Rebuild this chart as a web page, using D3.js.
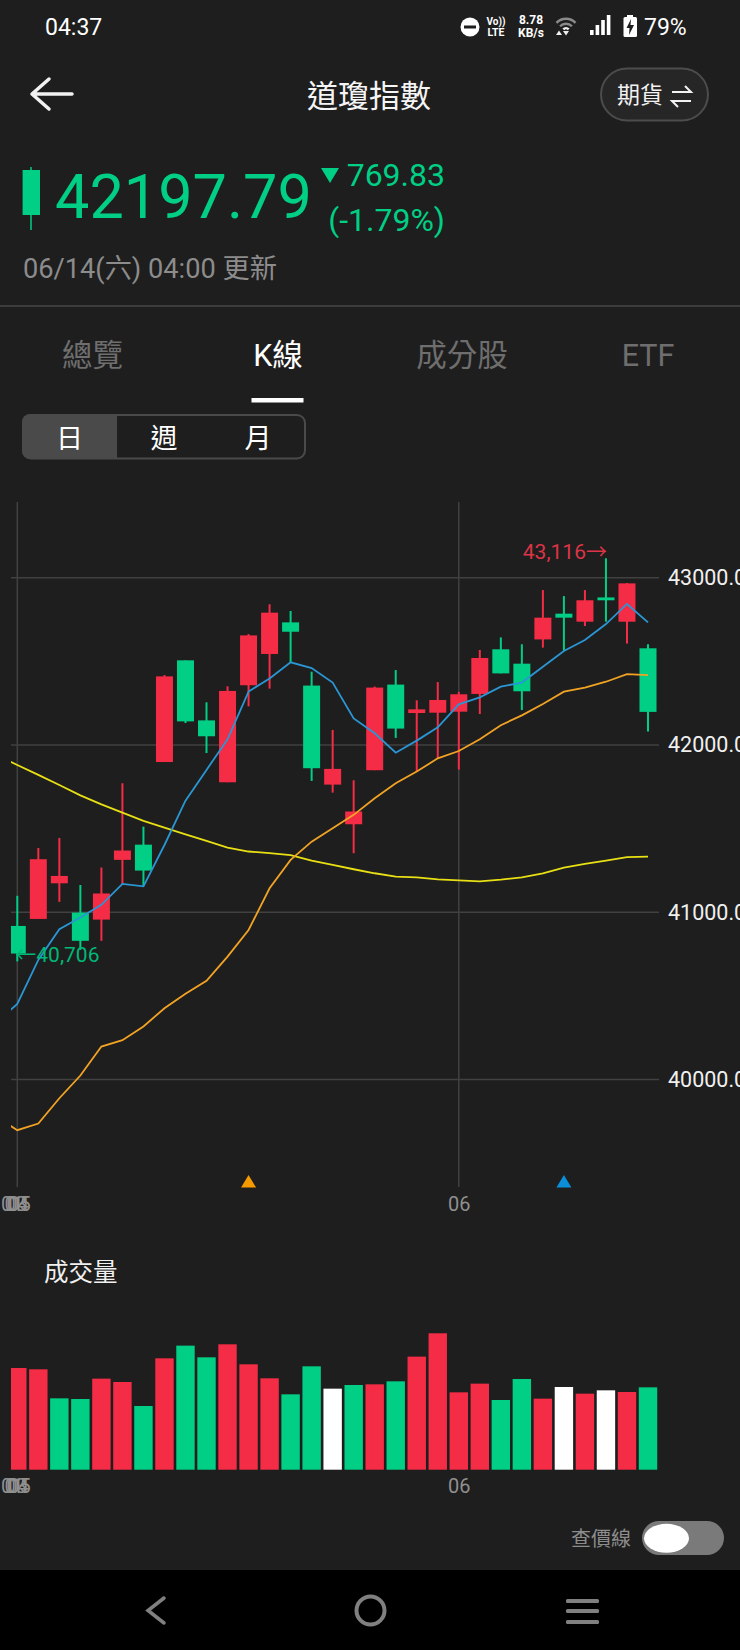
<!DOCTYPE html>
<html>
<head>
<meta charset="utf-8">
<script src="https://cdn.jsdelivr.net/npm/d3@7"></script>
<style>
  html, body { margin: 0; padding: 0; background: #1e1e1e; overflow: hidden; }
  svg { display: block; }
  text { font-family: Roboto, "Noto Sans CJK TC", sans-serif; }
</style>
</head>
<body>
<div id="chart"></div>
<script>
// Daily candles, oldest first. Red is up, green is down
const opens  = [40918,40960,41173,40998,40956,41313,41404,41898,42506,42147,41777,42357,42544,42733,42355,41763,41526,41849,42361,42191,42193,42199,42305,42572,42486,42631,42785,42737,42882,42737,42578];
const highs  = [41098,41384,41444,41163,41267,41771,41512,42418,42506,42255,42351,42663,42841,42801,42438,42090,41789,42349,42448,42267,42376,42317,42568,42643,42602,42926,42890,42926,43116,42968,42602];
const lows   = [40706,40960,41062,40775,40829,41169,41157,41898,42131,41952,41777,42231,42337,42492,41785,41715,41353,41849,42042,41839,41918,41853,42185,42428,42209,42582,42564,42711,42737,42606,42080];
const closes = [40753,41317,41217,40829,41112,41369,41249,42410,42141,42052,42323,42655,42791,42677,41861,41857,41602,42343,42098,42213,42269,42303,42520,42428,42321,42761,42761,42865,42865,42966,42197.79];

// Moving averages, first value belongs to the day before the first candle (clipped off)
const ma5  = [40339,40452,40715,40898,40968,41044,41169,41155,41402,41667,41851,42034,42319,42398,42494,42460,42373,42159,42070,41954,42026,42106,42243,42285,42349,42373,42468,42562,42627,42723,42843,42733];
const ma20 = [39779,39697,39737,39888,40024,40197,40235,40317,40426,40512,40590,40735,40894,41143,41313,41422,41502,41582,41681,41771,41841,41920,41964,42034,42118,42177,42245,42319,42343,42378,42424,42418];
const ma60 = [41940,41880,41821,41761,41699,41645,41596,41546,41506,41466,41426,41386,41363,41353,41341,41309,41283,41257,41233,41213,41209,41197,41191,41185,41195,41209,41233,41267,41289,41309,41329,41333];

const volumes   = [305,301,214,212,273,263,191,334,372,337,376,316,274,226,310,243,254,256,265,339,409,232,258,209,272,213,248,228,238,233,247];
const volColors = ['r','r','g','g','r','r','g','r','g','g','r','r','r','g','g','w','g','r','g','r','r','r','r','g','g','r','w','r','w','r','g'];

const priceTicks = [43000, 42000, 41000, 40000];
const monthIdx = [-0.27, -0.1, 0, 0.08, 21];
const monthLabels = ['01', '03', '04', '05', '06'];
const maCrossIdx = [11, 26];
const highIdx = 28;
const lowIdx = 0;

const tabs = ['總覽', 'K線', '成分股', 'ETF'];
const periods = ['日', '週', '月'];

const BG = '#1e1e1e', GREEN = '#00cf85', RED = '#f52c45', GRID = '#414141', GREY = '#8c8c8c';
const colorOf = { r: RED, g: GREEN, w: '#ffffff' };

const svg = d3.select('#chart').append('svg')
  .attr('width', 740).attr('height', 1650)
  .attr('viewBox', [0, 0, 740, 1650]);

svg.append('rect').attr('width', 740).attr('height', 1650).attr('fill', BG);

function label(x, y, txt, size, fill, anchor) {
  return svg.append('text')
    .attr('x', x).attr('y', y)
    .attr('dy', '0.35em')
    .attr('font-size', size)
    .attr('fill', fill)
    .attr('text-anchor', anchor || 'start')
    .text(txt);
}

// status bar
label(45, 27, '04:37', 23, '#fff');
svg.append('circle').attr('cx', 470).attr('cy', 27).attr('r', 9.5).attr('fill', '#fff');
svg.append('rect').attr('x', 464).attr('y', 25.5).attr('width', 12).attr('height', 3).attr('fill', BG);
label(496, 21, 'Vo))', 10, '#fff', 'middle').attr('font-weight', 700);
label(496, 32, 'LTE', 10.5, '#fff', 'middle').attr('font-weight', 700);
label(531, 20, '8.78', 12, '#fff', 'middle').attr('font-weight', 700);
label(531, 33, 'KB/s', 12, '#fff', 'middle').attr('font-weight', 700);
[[14.5, '#8a8a8a'], [9.5, '#8a8a8a'], [5, '#eeeeee']].forEach(d => {
  svg.append('path')
    .attr('d', d3.arc()({ innerRadius: d[0] - 2.5, outerRadius: d[0], startAngle: -0.8, endAngle: 0.8 }))
    .attr('transform', 'translate(566,32)')
    .attr('fill', d[1]);
});
svg.append('path').attr('d', 'M556,35 L559,30.5 L562,35 Z M563,31 H569 L566,35.5 Z').attr('fill', '#eeeeee');
[0, 1, 2, 3].forEach(i => {
  svg.append('rect')
    .attr('x', 590 + i * 5.6).attr('width', 3.6)
    .attr('y', 35 - (5 + i * 5)).attr('height', 5 + i * 5)
    .attr('fill', '#fff');
});
svg.append('rect').attr('x', 627).attr('y', 15).attr('width', 6).attr('height', 3).attr('fill', '#fff');
svg.append('rect').attr('x', 623.5).attr('y', 17).attr('width', 13.5).attr('height', 20).attr('rx', 1.5).attr('fill', '#fff');
svg.append('path').attr('d', 'M631,19 L626.5,28 L629.5,28 L629,35 L634,25 L630.5,25 Z').attr('fill', BG);
label(644, 27, '79%', 23, '#fff');

// header
svg.append('path')
  .attr('d', 'M72,94 H33 M49,79 L32,94 L49,109')
  .attr('fill', 'none').attr('stroke', '#f2f2f2').attr('stroke-width', 3.5)
  .attr('stroke-linecap', 'round').attr('stroke-linejoin', 'round');
label(369, 96, '道瓊指數', 31, '#f5f5f5', 'middle');
svg.append('rect').attr('x', 601).attr('y', 68.5).attr('width', 107).attr('height', 52).attr('rx', 26)
  .attr('fill', '#262626').attr('stroke', '#4c4c4c').attr('stroke-width', 2);
label(617, 95, '期貨', 23, '#f2f2f2');
svg.append('path')
  .attr('d', 'M672,92 H691 L685,86 M691,101 H672 L678,107')
  .attr('fill', 'none').attr('stroke', '#f2f2f2').attr('stroke-width', 2);

// quote
svg.append('line').attr('x1', 31).attr('x2', 31).attr('y1', 167).attr('y2', 230).attr('stroke', GREEN).attr('stroke-width', 1.5);
svg.append('rect').attr('x', 22.6).attr('y', 170).attr('width', 17.4).attr('height', 45).attr('fill', GREEN);
label(55, 197, '42197.79', 61.2, GREEN);
svg.append('path').attr('d', 'M321,168 H339 L330,183 Z').attr('fill', GREEN);
label(445, 175, '769.83', 32, GREEN, 'end');
label(445, 220, '(-1.79%)', 32, GREEN, 'end');
label(23, 268, '06/14(六) 04:00 更新', 27.2, GREY);
svg.append('line').attr('x1', 0).attr('x2', 740).attr('y1', 306).attr('y2', 306).attr('stroke', '#3c3c3c').attr('stroke-width', 2);

// tabs
const tabX = [92.5, 278, 462, 648];
tabs.forEach((t, i) => label(tabX[i], 355, t, 30.5, i === 1 ? '#fff' : '#6e6e6e', 'middle'));
svg.append('rect').attr('x', 251.5).attr('y', 398).attr('width', 52).attr('height', 4.5).attr('fill', '#fff');

svg.append('rect').attr('x', 23).attr('y', 415).attr('width', 282).attr('height', 43.5).attr('rx', 8)
  .attr('fill', BG).attr('stroke', '#4a4a4a').attr('stroke-width', 2);
svg.append('path').attr('d', 'M117,414 V459 H30 A8,8 0 0 1 22,451 V422 A8,8 0 0 1 30,414 Z').attr('fill', '#4a4a4a');
const periodX = [69.5, 164, 258];
periods.forEach((p, i) => label(periodX[i], 439, p, 27, '#fff', 'middle'));

// price chart
const x = d3.scaleLinear().domain([0, 30]).range([17.3, 648]);
const y = d3.scaleLinear().domain([40000, 43000]).range([1079.5, 577.7]);
const bodyW = 17, volW = 18.4, plotLeft = 11;

const defs = svg.append('defs');
defs.append('clipPath').attr('id', 'plot-clip')
  .append('rect').attr('x', plotLeft).attr('y', 480).attr('width', 700).attr('height', 1020);

// grid
svg.append('g').selectAll('line').data(priceTicks).join('line')
  .attr('x1', plotLeft).attr('x2', 659)
  .attr('y1', d => y(d)).attr('y2', d => y(d))
  .attr('stroke', GRID).attr('stroke-width', 1.5);
svg.append('g').selectAll('line').data([0, 21]).join('line')
  .attr('x1', d => x(d)).attr('x2', d => x(d))
  .attr('y1', 502).attr('y2', 1187)
  .attr('stroke', GRID).attr('stroke-width', 1.5);

const plot = svg.append('g').attr('clip-path', 'url(#plot-clip)');
const days = d3.range(opens.length);
const candleColor = i => (closes[i] >= opens[i] ? RED : GREEN);

plot.append('g').selectAll('line').data(days).join('line')
  .attr('x1', i => x(i)).attr('x2', i => x(i))
  .attr('y1', i => y(highs[i])).attr('y2', i => y(lows[i]))
  .attr('stroke', candleColor).attr('stroke-width', 2);

plot.append('g').selectAll('rect').data(days).join('rect')
  .attr('x', i => x(i) - bodyW / 2)
  .attr('width', bodyW)
  .attr('y', i => y(Math.max(opens[i], closes[i])))
  .attr('height', i => Math.max(1, Math.abs(y(opens[i]) - y(closes[i]))))
  .attr('fill', candleColor);

const maLine = d3.line().x((d, i) => x(i - 1)).y(d => y(d));
[[ma60, '#e8e014'], [ma20, '#f2a324'], [ma5, '#2a96d4']].forEach(d => {
  plot.append('path')
    .attr('d', maLine(d[0]))
    .attr('fill', 'none').attr('stroke', d[1]).attr('stroke-width', 1.8);
});

// price axis on the right
const priceAxis = d3.axisRight(y).tickValues(priceTicks).tickSize(0).tickPadding(0).tickFormat(d3.format('.2f'));
svg.append('g').attr('transform', 'translate(668,0)').call(priceAxis)
  .call(g => g.select('.domain').remove())
  .call(g => g.selectAll('text').attr('font-size', 21.5).attr('fill', '#f0f0f0').attr('font-family', 'Roboto'));

// high and low callouts
label(x(highIdx) + 1, y(highs[highIdx]) - 7, d3.format(',')(highs[highIdx]) + '→', 21, '#dd3448', 'end');
label(x(lowIdx) - 2, y(lows[lowIdx]) - 7, '←' + d3.format(',')(lows[lowIdx]), 21, '#00b877');

// ma cross markers
const markerColors = ['#f59a00', '#0a8fd8'];
svg.append('g').selectAll('path').data(maCrossIdx).join('path')
  .attr('d', 'M0,-12.5 L7.5,0 H-7.5 Z')
  .attr('transform', d => `translate(${x(d)},1187.5)`)
  .attr('fill', (d, i) => markerColors[i]);

// month axes under both charts
function monthAxis(top) {
  const axis = d3.axisBottom(x).tickValues(monthIdx).tickSize(0).tickPadding(0).tickFormat((d, i) => monthLabels[i]);
  svg.append('g').attr('transform', `translate(0,${top})`).call(axis)
    .call(g => g.select('.domain').remove())
    .call(g => g.selectAll('text').attr('font-size', 20).attr('fill', '#8f8f8f').attr('font-family', 'Roboto'));
}
monthAxis(1197);
monthAxis(1478.5);

// volume
label(44, 1272, '成交量', 24.5, '#f0f0f0');
const yVol = d3.scaleLinear().domain([0, 409]).range([1469.7, 1333.3]);
const volClip = defs.append('clipPath').attr('id', 'vol-clip');
volClip.append('rect').attr('x', plotLeft).attr('y', 1300).attr('width', 700).attr('height', 200);
svg.append('g').attr('clip-path', 'url(#vol-clip)')
  .selectAll('rect').data(volumes).join('rect')
  .attr('x', (d, i) => x(i) - volW / 2)
  .attr('width', volW)
  .attr('y', d => yVol(d))
  .attr('height', d => yVol(0) - yVol(d))
  .attr('fill', (d, i) => colorOf[volColors[i]]);

// price-line toggle
label(571, 1539, '查價線', 20, GREY);
svg.append('rect').attr('x', 642).attr('y', 1521).attr('width', 82).attr('height', 34).attr('rx', 17).attr('fill', '#7a7a7a');
svg.append('ellipse').attr('cx', 666.5).attr('cy', 1538.3).attr('rx', 22.5).attr('ry', 14.5).attr('fill', '#fff');

// navigation bar
svg.append('rect').attr('y', 1570).attr('width', 740).attr('height', 80).attr('fill', '#000');
svg.append('path').attr('d', 'M164,1598 L148,1610.5 L164,1623')
  .attr('fill', 'none').attr('stroke', '#808080').attr('stroke-width', 3.5).attr('stroke-linecap', 'round');
svg.append('circle').attr('cx', 370.5).attr('cy', 1610.5).attr('r', 14).attr('fill', 'none').attr('stroke', '#808080').attr('stroke-width', 4);
[1601, 1611, 1622].forEach(b => {
  svg.append('rect').attr('x', 566).attr('y', b - 2).attr('width', 33).attr('height', 4).attr('rx', 1.5).attr('fill', '#808080');
});
</script>
</body>
</html>
